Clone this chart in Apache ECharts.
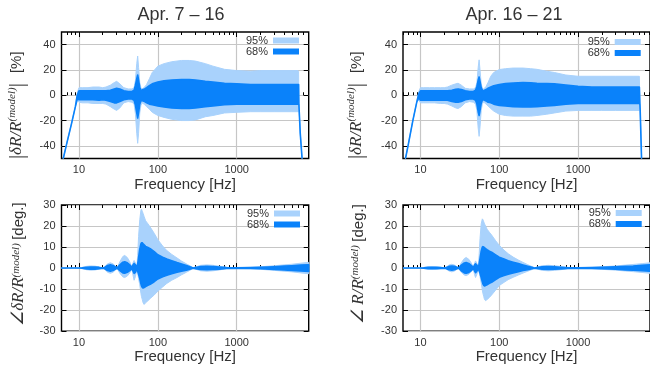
<!DOCTYPE html>
<html>
<head>
<meta charset="utf-8">
<script src="https://cdn.jsdelivr.net/npm/echarts@6/dist/echarts.min.js"></script>
<style>
  html, body {margin: 0; padding: 0; background: #fff;}
  #chart {width: 650px; height: 365px;}
</style>
</head>
<body>
<div id="chart"></div>
<script>
const titles = ['Apr. 7 – 16', 'Apr. 16 – 21']
const xTicks = [10, 100, 1000]
const magTicks = [-40, -20, 0, 20, 40]
const phaseTicks = [-30, -20, -10, 0, 10, 20, 30]

// magnitude panels (Hz, %)
const magFreq = [6, 7, 8, 9, 9.5, 10, 11, 13, 15, 18, 20, 22, 25, 28, 30, 33, 37, 42, 47, 50, 52, 54, 55.5, 57, 59, 61, 63, 65, 68, 72, 78, 85, 100, 120, 150, 200, 250, 300, 400, 500, 700, 1000, 1500, 2000, 3000, 5000, 6000, 6100, 6150, 6400, 6750, 7500]

const magA_up95 = [-56, -38, -23, -9, 2, 6, 6, 6, 6.5, 6.5, 6, 6.5, 8, 10, 11, 9, 6, 5, 5, 6, 12, 25, 31, 22, 10, 6, 5, 5.5, 6.5, 8.5, 13, 18, 23, 25, 26.5, 27.5, 27.5, 27, 25, 23, 20.5, 19.5, 19, 19.5, 19.5, 19.5, 19.5, 19, -7, -30, -50, -80]
const magA_up68 = [-56, -38, -23, -9, 0, 3.5, 3.5, 3.5, 3.5, 3.5, 3.5, 3.5, 4, 5, 5.5, 5, 3.5, 3, 3, 4, 8, 13, 16, 12, 6, 4, 4, 4.5, 5, 6, 7.5, 9, 10.5, 11.5, 12, 12.5, 12.5, 12, 11, 10.5, 9.5, 9, 8.5, 8.5, 8.5, 8.5, 8.5, 8.5, -7, -30, -50, -80]
const magA_lo68 = [-56, -38, -23, -9, -3, -3.5, -3.5, -3.5, -3.5, -4, -3.5, -4, -5, -6, -6, -5, -3.5, -3, -3, -4, -8, -14, -18, -14, -7, -4.5, -4, -4.5, -5, -6, -7, -7.5, -8.5, -9.2, -10, -10.5, -10.5, -10, -9, -8.5, -7.5, -7, -7, -7, -7, -7, -7, -7, -7, -30, -50, -80]
const magA_lo95 = [-56, -38, -23, -9, -4, -5.5, -6, -6, -6.5, -6.5, -6.5, -7, -9, -11, -12, -10, -6, -5, -5.5, -7, -15, -30, -38, -30, -14, -8, -6, -6.5, -7.5, -9, -11, -13.5, -16, -17.5, -19, -20, -20, -19.5, -17, -16, -14, -13.5, -13, -13, -13, -13, -13, -13, -7, -30, -50, -80]

const magB_up95 = [-60, -39, -20, -5, 3, 6, 6, 6, 6, 6, 6, 6.5, 8, 9, 9.5, 8, 5.5, 5, 5, 6, 10, 22, 28, 20, 9, 5.5, 5, 5.5, 7, 10, 15, 18, 20.3, 21, 21.5, 21.5, 21, 20.5, 19, 18, 16, 15, 15, 15, 15, 15, 15, -7, -12, -50, -70, -95]
const magB_up68 = [-60, -39, -20, -5, 1, 3.5, 3.5, 3.5, 3.5, 3.5, 3.5, 3.5, 4, 4.8, 5, 4.5, 3.5, 3, 3, 4, 7, 12, 14.5, 11, 6, 4, 3.5, 4, 4.5, 5.5, 6.5, 7.5, 8.5, 9.2, 9.6, 10, 9.8, 9.5, 9.2, 9, 8, 7, 6.5, 6.5, 6.5, 6.5, 6.5, -7, -12, -50, -70, -95]
const magB_lo68 = [-60, -39, -20, -5, -2, -4, -4, -4, -4, -4, -4, -4, -5, -5.5, -5.5, -5, -3.5, -3, -3, -4, -7, -13, -16, -12, -6.5, -4, -3.5, -4, -4.5, -5.5, -6, -7, -8, -8.5, -9, -9.2, -9.2, -9, -8.5, -8, -7, -6.5, -6.5, -6.5, -6.5, -6.5, -6.5, -7, -12, -50, -70, -95]
const magB_lo95 = [-60, -39, -20, -5, -4, -6, -6, -6, -6, -6.5, -6.5, -7, -8.5, -10, -10.5, -9, -6, -5, -5.5, -7, -12, -26, -32.5, -25, -12, -7, -5.5, -6, -7, -8.5, -10.5, -12.5, -15, -16, -16.5, -16.5, -16.5, -16, -15, -14, -12.5, -12, -12, -12, -12, -12, -12, -7, -12, -50, -70, -95]

// phase panels (Hz, deg.)
const phaseFreq = [6, 10, 11, 12.5, 14, 16, 18, 20, 21, 23, 25, 27, 29.5, 30.5, 33, 36, 38, 41, 44, 47, 48.5, 50, 52, 54.2, 55.5, 57, 59, 61, 62, 63.5, 65, 67, 70, 75, 80, 90, 100, 115, 130, 150, 175, 200, 230, 260, 280, 300, 350, 420, 500, 600, 740, 1000, 1500, 2000, 3000, 4000, 5000, 6500, 8192]

const phA_up95 = [0, 0, 0.3, 0.8, 1.0, 0.9, 0.5, 0.1, 0.3, 2, 2.5, 2, 0.6, 0.2, 3, 5.5, 6, 5, 3, 0.5, 2.5, 3.6, 2.5, 0.5, 6, 15, 23, 27.5, 28, 27, 26, 24.5, 22.5, 21, 19.5, 16.5, 13.5, 10.5, 8.3, 6.5, 4.8, 3.3, 2, 0.9, 0.1, 0.5, 1.3, 1.5, 1.3, 0.9, 0.3, 0.2, 0.3, 0.6, 1.1, 1.5, 1.8, 2.3, 2.7]
const phA_up68 = [0, 0, 0.1, 0.4, 0.5, 0.5, 0.3, 0.05, 0.2, 1.2, 1.5, 1.2, 0.4, 0.1, 1.5, 2.8, 3, 2.5, 1.5, 0.3, 1.5, 2.2, 1.5, 0.3, 2, 5, 9, 11.5, 12, 12, 11.5, 11, 10.3, 9.8, 9.2, 7.8, 6.3, 5.2, 4.3, 3.5, 2.6, 1.9, 1.2, 0.5, 0.05, 0.3, 0.7, 0.8, 0.7, 0.5, 0.2, 0.1, 0.2, 0.35, 0.65, 0.9, 1.1, 1.4, 1.6]
const phA_lo68 = [0, 0, -0.1, -0.4, -0.5, -0.5, -0.3, -0.05, -0.2, -1.2, -1.5, -1.2, -0.4, -0.1, -1.2, -2.3, -2.5, -2, -1.2, -0.3, -1.5, -2.5, -2, -0.3, -1.5, -3, -5, -7.5, -8.5, -9.2, -9.5, -9.3, -8.8, -8.2, -7.7, -6.5, -5.2, -4.2, -3.4, -2.7, -2, -1.5, -1, -0.4, -0.05, -0.3, -0.7, -0.8, -0.7, -0.5, -0.2, -0.1, -0.2, -0.35, -0.65, -0.9, -1.1, -1.4, -1.6]
const phA_lo95 = [0, 0, -0.3, -0.8, -1.0, -0.9, -0.5, -0.1, -0.3, -2, -2.5, -2, -0.6, -0.2, -2.5, -4.2, -4.5, -3.8, -2.3, -0.5, -3.5, -5.8, -4, -0.8, -2.5, -5, -8, -12, -13.5, -15, -16.5, -17.3, -16.5, -15.5, -14.5, -12.8, -11, -9, -7.3, -5.8, -4.5, -3.2, -2, -0.9, -0.1, -0.5, -1.3, -1.5, -1.3, -0.9, -0.3, -0.2, -0.3, -0.6, -1.1, -1.5, -1.8, -2.3, -2.7]

const phB_up95 = [0, 0, 0.2, 0.5, 0.6, 0.5, 0.3, 0.1, 0.3, 1.4, 1.8, 1.4, 0.4, 0.1, 2.5, 4.5, 5, 4.2, 2.5, 0.4, 2.2, 3.4, 2.3, 0.4, 6, 14, 21, 23.4, 23, 22, 21, 20, 18.5, 17, 15.7, 13, 10.8, 8.5, 6.8, 5.2, 3.8, 2.7, 1.6, 0.7, 0.1, 0.4, 1.1, 1.3, 1.1, 0.8, 0.3, 0.2, 0.3, 0.6, 1.0, 1.4, 1.7, 2.1, 2.5]
const phB_up68 = [0, 0, 0.1, 0.3, 0.35, 0.3, 0.2, 0.05, 0.2, 0.8, 1, 0.8, 0.25, 0.05, 1.4, 2.4, 2.6, 2.2, 1.3, 0.2, 1.4, 2, 1.4, 0.2, 2, 4.5, 8, 10, 10.2, 10, 9.7, 9.2, 8.7, 8, 7.5, 6.3, 5.2, 4.3, 3.5, 2.8, 2.1, 1.5, 0.9, 0.4, 0.05, 0.25, 0.6, 0.7, 0.6, 0.4, 0.15, 0.1, 0.2, 0.35, 0.6, 0.85, 1.0, 1.3, 1.5]
const phB_lo68 = [0, 0, -0.1, -0.3, -0.35, -0.3, -0.2, -0.05, -0.2, -0.8, -1, -0.8, -0.25, -0.05, -1.3, -2.3, -2.5, -2.1, -1.2, -0.2, -1.4, -2.2, -1.5, -0.3, -1.3, -2.5, -4.5, -6.5, -7.5, -8.2, -8.5, -8.3, -8, -7.3, -6.8, -5.5, -4.4, -3.6, -2.9, -2.3, -1.7, -1.2, -0.8, -0.35, -0.05, -0.25, -0.6, -0.7, -0.6, -0.4, -0.15, -0.1, -0.2, -0.35, -0.6, -0.85, -1.0, -1.3, -1.5]
const phB_lo95 = [0, 0, -0.2, -0.5, -0.6, -0.5, -0.3, -0.1, -0.3, -1.4, -1.8, -1.4, -0.4, -0.1, -2, -3.3, -3.6, -3, -1.8, -0.4, -3, -4.5, -3, -0.6, -2, -4, -7, -10.5, -12, -13.5, -15, -15.5, -15, -14, -12.8, -10.5, -8.3, -6.8, -5.5, -4.4, -3.3, -2.4, -1.5, -0.7, -0.1, -0.4, -1.1, -1.3, -1.1, -0.8, -0.3, -0.2, -0.3, -0.6, -1.0, -1.4, -1.7, -2.1, -2.5]

const LIGHT = '#a9d2fc'
const DARK = '#0a82fa'
const GRIDC = '#c6c6c6'
const SANS = 'Liberation Sans, Arial, sans-serif'
const SERIF = 'Liberation Serif, Times New Roman, serif'

// x axes live in log10(Hz)
const xMin = Math.log10(6)
const xMax = Math.log10(8192)
const xTickPos = xTicks.map(Math.log10)
const minorTicks = []
for (let e = 0; e <= 3; e++) {
  for (let k = 2; k <= 9; k++) {
    const v = k * Math.pow(10, e)
    if (v >= 6 && v <= 8192) minorTicks.push(Math.log10(v))
  }
}

const rich = {
  b: {fontFamily: SERIF, fontSize: 21, color: '#333'},
  m: {fontFamily: SERIF, fontStyle: 'italic', fontSize: 17, color: '#333'},
  s: {fontFamily: SERIF, fontStyle: 'italic', fontSize: 11, color: '#333', verticalAlign: 'top'},
  n: {fontFamily: SANS, fontSize: 15, color: '#333'}
}

const panels = [
  {left: 61.5, top: 32, width: 247.2, kind: 'mag', freq: magFreq, lo95: magA_lo95, up95: magA_up95, lo68: magA_lo68, up68: magA_up68,
   yName: '{b||}{m|δR/R}{s|(model)}{b||}   {n|[%]}', namePad: [0, 20, 0, 0], nameGap: 34, xGap: 19, legRight: 351, legTop: 35},
  {left: 403, top: 32, width: 248.1, kind: 'mag', freq: magFreq, lo95: magB_lo95, up95: magB_up95, lo68: magB_lo68, up68: magB_up68,
   yName: '{b||}{m|δR/R}{s|(model)}{b||}   {n|[%]}', namePad: [0, 20, 0, 0], nameGap: 36, xGap: 19, legRight: 9.3, legTop: 36.5},
  {left: 61.5, top: 205, width: 247.2, kind: 'phase', freq: phaseFreq, lo95: phA_lo95, up95: phA_up95, lo68: phA_lo68, up68: phA_up68,
   yName: '{m|∠δR/R}{s|(model)} {n|[deg.]}', namePad: [0, 0, 0, 8], nameGap: 34, xGap: 16, legRight: 350, legTop: 208},
  {left: 403, top: 205, width: 248.1, kind: 'phase', freq: phaseFreq, lo95: phB_lo95, up95: phB_up95, lo68: phB_lo68, up68: phB_up68,
   yName: '{m|∠ R/R}{s|(model)} {n|[deg.]}', namePad: [0, 0, 0, 8], nameGap: 36, xGap: 16, legRight: 8.3, legTop: 207.5}
]

// filled band between lo and up, drawn as one polygon through the axes
function bandRenderer(color, lw) {
  return (params, api) => {
    if (params.dataIndexInside !== 0) return null
    const n = params.dataInsideLength
    const upper = [], lower = []
    for (let j = 0; j < n; j++) {
      upper.push(api.coord([api.value(0, j), api.value(2, j)]))
      lower.push(api.coord([api.value(0, j), api.value(1, j)]))
    }
    return {
      type: 'polygon',
      shape: {points: upper.concat(lower.reverse())},
      style: {fill: color, stroke: color, lineWidth: lw, lineJoin: 'round'}
    }
  }
}

const grid = [], xAxis = [], yAxis = [], series = [], legend = []

panels.forEach((p, g) => {
  grid.push({left: p.left, top: p.top, width: p.width, height: 126.5, show: true, borderColor: '#000', borderWidth: 1.4})

  const xb = {type: 'value', gridIndex: g, min: xMin, max: xMax, axisLine: {show: false},
    splitLine: {show: false}, axisLabel: {show: false}}
  const tick = (vals, len) => ({inside: true, length: len, customValues: vals, lineStyle: {color: '#000', width: 1}})
  xAxis.push({...xb, position: 'bottom', axisTick: tick(xTickPos, 5),
    axisLabel: {show: true, customValues: xTickPos, formatter: v => String(Math.round(Math.pow(10, v))),
      margin: 6, fontSize: 11, color: '#333', fontFamily: SANS},
    splitLine: {show: true, lineStyle: {color: GRIDC, width: 1.2}},
    name: 'Frequency [Hz]', nameLocation: 'middle', nameGap: p.xGap,
    nameTextStyle: {fontSize: 15, color: '#333', fontFamily: SANS}})
  xAxis.push({...xb, position: 'bottom', axisTick: tick(minorTicks, 3)})
  xAxis.push({...xb, position: 'top', axisTick: tick(xTickPos, 5)})
  xAxis.push({...xb, position: 'top', axisTick: tick(minorTicks, 3)})

  const isMag = p.kind === 'mag'
  const yt = isMag ? magTicks : phaseTicks
  const yb = {type: 'value', gridIndex: g, min: isMag ? -50 : -30, max: isMag ? 50 : 30, axisLine: {show: false}}
  yAxis.push({...yb, position: 'left', axisTick: tick(yt, 5),
    axisLabel: {customValues: yt, margin: 6, fontSize: 11, color: '#333', fontFamily: SANS},
    splitLine: {show: true, lineStyle: {color: GRIDC, width: 1.2}},
    name: p.yName, nameLocation: 'middle', nameRotate: 90, nameGap: p.nameGap,
    nameTextStyle: {rich, padding: p.namePad}})
  yAxis.push({...yb, position: 'right', axisTick: tick(yt, 5), axisLabel: {show: false}, splitLine: {show: false}})

  const x = p.freq.map(Math.log10)
  const band = (lo, up, name, color, lw) => {
    series.push({
      type: 'custom', name, xAxisIndex: 4 * g, yAxisIndex: 2 * g, clip: true,
      itemStyle: {color}, encode: {x: 0, y: [1, 2]},
      renderItem: bandRenderer(color, lw),
      data: x.map((v, i) => [v, lo[i], up[i]])
    })
  }
  band(p.lo95, p.up95, '95%', LIGHT, 1)
  band(p.lo68, p.up68, '68%', DARK, 1.6)

  legend.push({data: ['95%', '68%'], orient: 'vertical', align: 'right', right: p.legRight, top: p.legTop,
    padding: 0, itemGap: 0, itemWidth: 26, itemHeight: 6, icon: 'rect', selectedMode: false,
    textStyle: {fontSize: 11, color: '#333', fontFamily: SANS, lineHeight: 10}})
})

const chart = echarts.init(document.getElementById('chart'))
chart.setOption({
  animation: false,
  backgroundColor: '#fff',
  title: [
    {text: titles[0], left: 181, top: 6, textAlign: 'center', padding: 0,
     textStyle: {fontSize: 18, fontWeight: 'normal', color: '#333', fontFamily: SANS}},
    {text: titles[1], left: 514, top: 6, textAlign: 'center', padding: 0,
     textStyle: {fontSize: 18, fontWeight: 'normal', color: '#333', fontFamily: SANS}}
  ],
  legend,
  grid,
  xAxis,
  yAxis,
  series
})
</script>
</body>
</html>
